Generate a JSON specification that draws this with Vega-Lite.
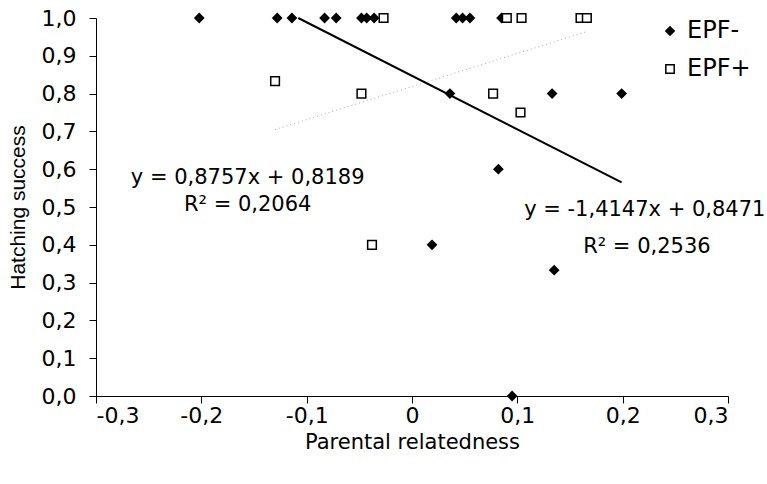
{
  "$schema": "https://vega.github.io/schema/vega-lite/v6.json",
  "width": 632,
  "height": 378,
  "autosize": {"type": "none"},
  "padding": {"left": 96, "top": 18, "right": 39, "bottom": 88},
  "background": "white",
  "config": {
    "view": {"stroke": null},
    "axis": {
      "grid": false,
      "domainColor": "black",
      "tickColor": "black",
      "domainWidth": 1,
      "tickWidth": 1,
      "tickSize": 7,
      "labelColor": "black",
      "titleColor": "black",
      "labelFont": "DejaVu Sans",
      "labelFontSize": 22,
      "titleFont": "DejaVu Sans",
      "titleFontSize": 21,
      "titleFontWeight": "normal"
    },
    "legend": {
      "orient": "none",
      "legendX": 562,
      "legendY": 1,
      "title": null,
      "labelFont": "DejaVu Sans",
      "labelFontSize": 24,
      "labelColor": "black",
      "symbolSize": 70,
      "symbolStrokeWidth": 1.5,
      "rowPadding": 14,
      "labelOffset": 5
    }
  },
  "datasets": {
    "points": [
      {"series": "EPF-", "r": -0.202, "hs": 1.0},
      {"series": "EPF-", "r": -0.128, "hs": 1.0},
      {"series": "EPF-", "r": -0.114, "hs": 1.0},
      {"series": "EPF-", "r": -0.083, "hs": 1.0},
      {"series": "EPF-", "r": -0.072, "hs": 1.0},
      {"series": "EPF-", "r": -0.048, "hs": 1.0},
      {"series": "EPF-", "r": -0.043, "hs": 1.0},
      {"series": "EPF-", "r": -0.036, "hs": 1.0},
      {"series": "EPF-", "r": 0.042, "hs": 1.0},
      {"series": "EPF-", "r": 0.048, "hs": 1.0},
      {"series": "EPF-", "r": 0.055, "hs": 1.0},
      {"series": "EPF-", "r": 0.085, "hs": 1.0},
      {"series": "EPF-", "r": 0.036, "hs": 0.8},
      {"series": "EPF-", "r": 0.133, "hs": 0.8},
      {"series": "EPF-", "r": 0.199, "hs": 0.8},
      {"series": "EPF-", "r": 0.082, "hs": 0.6},
      {"series": "EPF-", "r": 0.019, "hs": 0.4},
      {"series": "EPF-", "r": 0.135, "hs": 0.333},
      {"series": "EPF-", "r": 0.095, "hs": 0.0},
      {"series": "EPF+", "r": -0.027, "hs": 1.0},
      {"series": "EPF+", "r": 0.090, "hs": 1.0},
      {"series": "EPF+", "r": 0.104, "hs": 1.0},
      {"series": "EPF+", "r": 0.160, "hs": 1.0},
      {"series": "EPF+", "r": 0.166, "hs": 1.0},
      {"series": "EPF+", "r": -0.130, "hs": 0.833},
      {"series": "EPF+", "r": -0.048, "hs": 0.8},
      {"series": "EPF+", "r": 0.077, "hs": 0.8},
      {"series": "EPF+", "r": 0.103, "hs": 0.75},
      {"series": "EPF+", "r": -0.038, "hs": 0.4}
    ],
    "trendMinus": [
      {"r": -0.108, "hs": 1.0},
      {"r": 0.199, "hs": 0.565}
    ],
    "trendPlus": [
      {"r": -0.130, "hs": 0.705},
      {"r": 0.166, "hs": 0.964}
    ],
    "labels": [
      {"r": -0.156, "hs": 0.578, "txt": "y = 0,8757x + 0,8189"},
      {"r": -0.156, "hs": 0.504, "txt": "R² = 0,2064"},
      {"r": 0.221, "hs": 0.491, "txt": "y = -1,4147x + 0,8471"},
      {"r": 0.223, "hs": 0.394, "txt": "R² = 0,2536"}
    ]
  },
  "encoding": {
    "x": {
      "field": "r",
      "type": "quantitative",
      "scale": {"domain": [-0.3, 0.3], "nice": false, "zero": false},
      "axis": {
        "title": "Parental relatedness",
        "values": [-0.3, -0.2, -0.1, 0, 0.1, 0.2, 0.3],
        "labelExpr": "datum.value == 0 ? '0' : replace(replace(format(datum.value, '.1f'), '.', ','), '\u2212', '-')",
        "labelPadding": 2,
        "titlePadding": 5
      }
    },
    "y": {
      "field": "hs",
      "type": "quantitative",
      "scale": {"domain": [0, 1], "nice": false},
      "axis": {
        "title": "Hatching success",
        "titleFont": "Liberation Sans",
        "titleFontSize": 21,
        "values": [0, 0.1, 0.2, 0.3, 0.4, 0.5, 0.6, 0.7, 0.8, 0.9, 1.0],
        "labelExpr": "replace(format(datum.value, '.1f'), '.', ',')",
        "labelPadding": 13,
        "titlePadding": 13
      }
    }
  },
  "layer": [
    {
      "data": {"name": "trendPlus"},
      "mark": {"type": "line", "color": "#aaaaaa", "strokeWidth": 1, "strokeDash": [1, 3]}
    },
    {
      "data": {"name": "trendMinus"},
      "mark": {"type": "line", "color": "black", "strokeWidth": 2}
    },
    {
      "data": {"name": "points"},
      "mark": {"type": "point", "filled": true, "strokeWidth": 1.5, "size": 75, "opacity": 1},
      "encoding": {
        "shape": {
          "field": "series",
          "type": "nominal",
          "scale": {"domain": ["EPF-", "EPF+"], "range": ["diamond", "square"]}
        },
        "fill": {
          "field": "series",
          "type": "nominal",
          "scale": {"domain": ["EPF-", "EPF+"], "range": ["black", "white"]}
        },
        "stroke": {
          "field": "series",
          "type": "nominal",
          "scale": {"domain": ["EPF-", "EPF+"], "range": ["black", "black"]}
        }
      }
    },
    {
      "data": {"name": "labels"},
      "mark": {"type": "text", "font": "DejaVu Sans", "fontSize": 21, "color": "black", "align": "center", "baseline": "middle"},
      "encoding": {
        "text": {"field": "txt", "type": "nominal"}
      }
    }
  ]
}
